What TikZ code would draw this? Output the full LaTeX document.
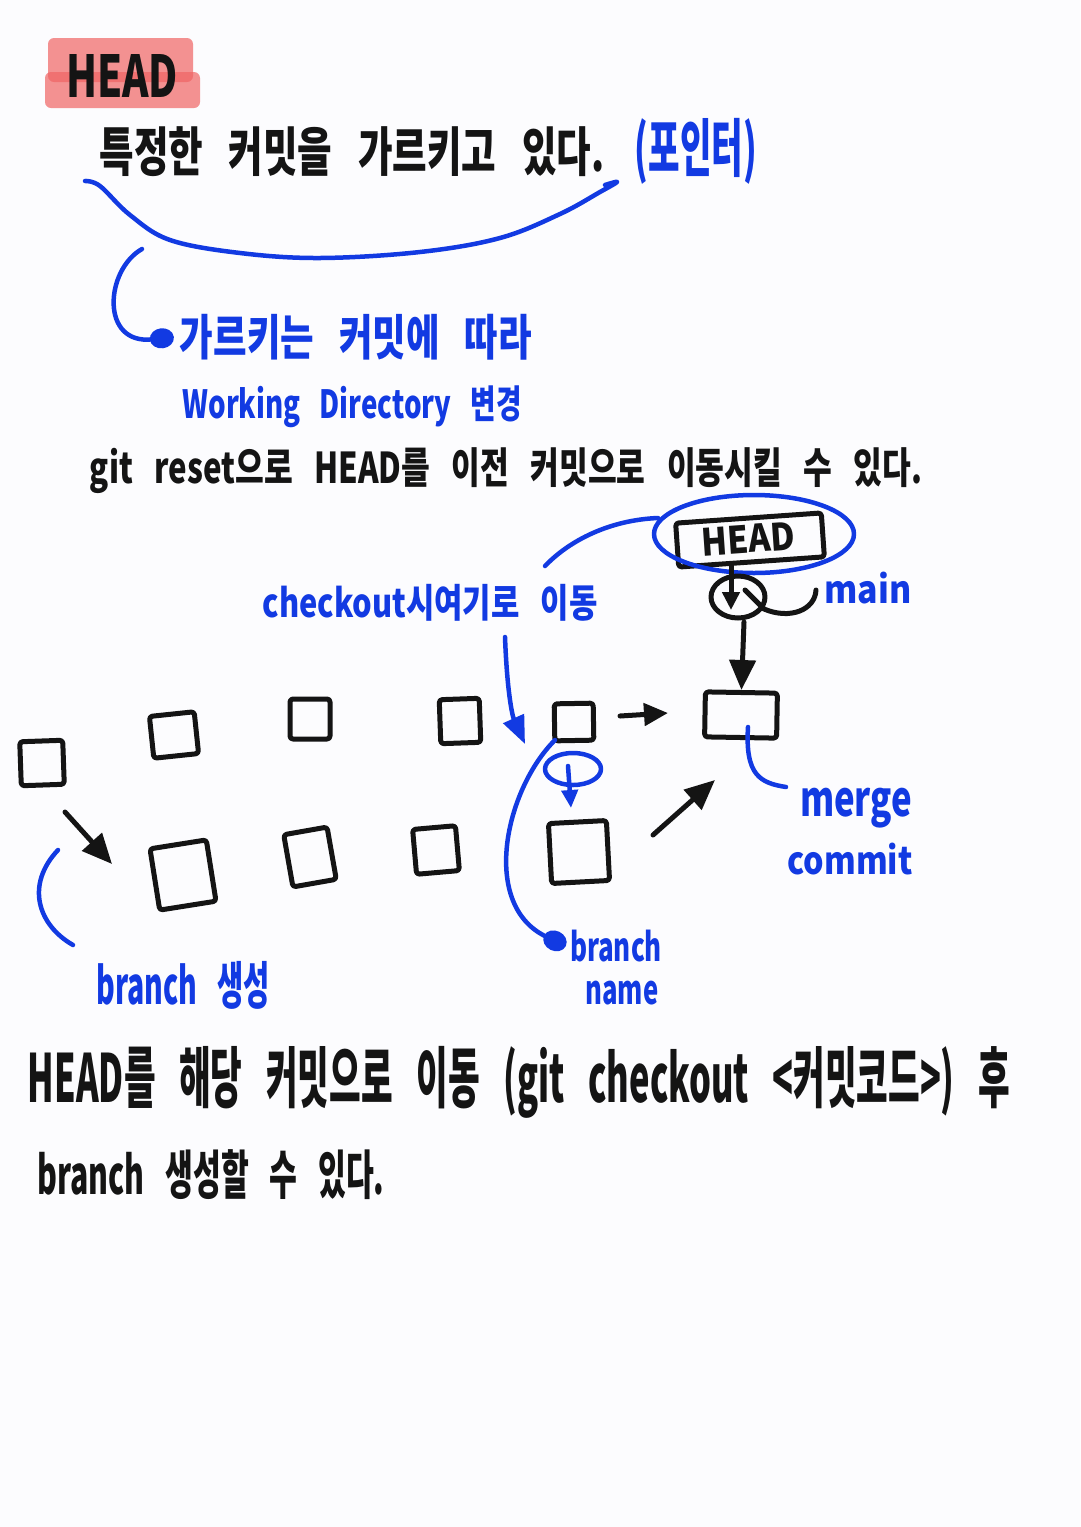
\documentclass[tikz,border=0pt]{standalone}
\usepackage{fontspec}
\setmainfont{Noto Sans CJK KR}[WordSpace=3]
\usepackage{graphicx}
\usetikzlibrary{arrows.meta}
\definecolor{ink}{RGB}{20,20,20}
\definecolor{blueink}{RGB}{18,58,226}
\definecolor{hl}{RGB}{240,100,100}
\definecolor{paper}{RGB}{252,252,254}
\newcommand\fitbox[3]{\resizebox*{#1}{#2}{#3}}
\begin{document}
\begin{tikzpicture}[x=1pt,y=-1pt,
  blk/.style={draw=ink,line width=5pt,line cap=round,line join=round},
  blu/.style={draw=blueink,line width=4.5pt,line cap=round,line join=round},
  commit/.style={draw=ink,line width=5pt,rounded corners=3pt,inner sep=0pt,line join=round},
  bt/.style={inner sep=0pt,text=blueink,font=\bfseries},
  kt/.style={inner sep=0pt,text=ink,font=\bfseries},
  tip/.style={-{Triangle[length=30pt,width=26pt]}},
  smalltip/.style={-{Triangle[length=24pt,width=22pt]}},
  btip/.style={-{Triangle[length=28pt,width=22pt]}},
  dottip/.style={-{Circle[length=24pt,width=20pt]}}]
\fill[paper] (0,0) rectangle (1080,1527);
\useasboundingbox (0,0) rectangle (1080,1527);

% ---- title with highlight
\fill[hl,opacity=.7,rounded corners=6pt] (48,38) rectangle (193,82);
\fill[hl,opacity=.7,rounded corners=6pt] (45,72) rectangle (200,108);
\node[kt] (t1) at (122,76) {\fitbox{112pt}{43pt}{HEAD}};

\node[kt] (t2) at (352,152) {\fitbox{505pt}{50pt}{특정한 커밋을 가르키고 있다.}};
\node[bt] (t3) at (696,151) {\fitbox{122pt}{66pt}{(포인터)}};

% brace under the sentence
\draw[blu] plot[smooth,tension=0.6] coordinates {(85,181) (100,186) (130,215) (170,240) (240,253) (320,258) (420,252) (500,238) (560,214) (600,192) (617,182) (605,185)};
\coordinate (br) at (142,249);
\node[bt] (t4) at (356,337) {\fitbox{352pt}{46pt}{가르키는 커밋에 따라}};
\node[bt] (t5) at (352,407) {\fitbox{339pt}{42pt}{Working Directory 변경}};
\draw[blu,dottip] (br) .. controls (105,270) and (100,345) .. ([xshift=-6pt]t4.west);

\node[kt] (t6) at (506,471) {\fitbox{832pt}{46pt}{git reset으로 HEAD를 이전 커밋으로 이동시킬 수 있다.}};

% ---- HEAD pointer
\node[commit,minimum width=146pt,minimum height=44pt,rotate=4] (hbox) at (750,540) {};
\node[kt,rotate=4] (hb) at (748,539) {\fitbox{94pt}{28pt}{HEAD}};
\draw[blu] (754,534) ellipse [x radius=100, y radius=39];
\coordinate (ell) at (658,518);
\node[bt] (co) at (430,603) {\fitbox{335pt}{37pt}{checkout시여기로 이동}};
\draw[blu] (ell) .. controls (610,520) and (570,540) .. (545,566);

\draw[blk] (738,597) ellipse [x radius=27, y radius=21];
\coordinate (mtop) at (731,564);
\coordinate (mtip) at (731,610);
\draw[blk,-{Triangle[length=18pt,width=17pt]}] (mtop) -- (mtip);
\coordinate (hk) at (745,590);
\node[bt] (main) at (868,588) {\fitbox{87pt}{32pt}{main}};
\draw[blk] (hk) -- (764,609) .. controls (790,620) and (815,610) .. (816,590);

% ---- commits
\node[commit,minimum width=43pt,minimum height=44pt,rotate=2] (A) at (42,763) {};
\node[commit,minimum width=45pt,minimum height=42pt,rotate=6] (B) at (174,735) {};
\node[commit,minimum width=40pt,minimum height=40pt,rotate=0] (C) at (310,719) {};
\node[commit,minimum width=40pt,minimum height=44pt,rotate=2] (D) at (460,721) {};
\node[commit,minimum width=39pt,minimum height=37pt,rotate=1] (E) at (574,722) {};
\node[commit,minimum width=72pt,minimum height=45pt,rotate=-1] (F) at (741,715) {};
\node[commit,minimum width=57pt,minimum height=62pt,rotate=9] (G) at (183,875) {};
\node[commit,minimum width=44pt,minimum height=53pt,rotate=10] (H) at (310,857) {};
\node[commit,minimum width=43pt,minimum height=45pt,rotate=5] (I) at (436,850) {};
\node[commit,minimum width=58pt,minimum height=60pt,rotate=3] (J) at (579,852) {};

\coordinate (mbot) at (744,622);
\draw[blk,tip] (mbot) -- (F.north);

\coordinate (a1) at (65,812); \coordinate (a2) at (112,864);
\draw[blk,tip] (a1) -- (a2);
\coordinate (e1) at (620,716); \coordinate (e2) at (668,713);
\draw[blk,smalltip] (e1) -- (e2);
\coordinate (j1) at (653,835); \coordinate (j2) at (715,780);
\draw[blk,tip] (j1) -- (j2);

% checkout arrow
\coordinate (c1) at (505,637); \coordinate (c2) at (525,744);
\draw[blu,btip] (c1) .. controls (507,690) and (512,715) .. (c2);

% small loop under E
\draw[blu] (573,769) ellipse [x radius=28, y radius=16];
\coordinate (l1) at (568,766); \coordinate (l2) at (571,808);
\draw[blu,-{Triangle[length=18pt,width=16pt]}] (l1) -- (l2);

% branch name
\node[bt] (bn1) at (616,946) {\fitbox{92pt}{32pt}{branch}};
\node[bt] (bn2) at (622,993) {\fitbox{73pt}{24pt}{name}};
\coordinate (eb) at (555,740);
\draw[blu,dottip] (eb) .. controls (505,790) and (480,905) .. ([xshift=-4pt]bn1.west);

% merge commit
\node[bt] (mg) at (856,808) {\fitbox{112pt}{40pt}{merge}};
\node[bt] (cm) at (850,859) {\fitbox{125pt}{32pt}{commit}};
\coordinate (fb) at (748,727);
\draw[blu] (fb) .. controls (745,775) and (760,783) .. (786,787);

% branch create
\node[bt] (bc) at (183,985) {\fitbox{173pt}{48pt}{branch 생성}};
\coordinate (bc1) at (58,850); \coordinate (bc2) at (73,945);
\draw[blu] (bc1) .. controls (25,885) and (38,925) .. (bc2);

% ---- bottom text
\node[kt] (t15) at (519,1082) {\fitbox{982pt}{72pt}{HEAD를 해당 커밋으로 이동 (git checkout <커밋코드>) 후}};
\node[kt] (t16) at (211,1175) {\fitbox{347pt}{50pt}{branch 생성할 수 있다.}};
\end{tikzpicture}
\end{document}
